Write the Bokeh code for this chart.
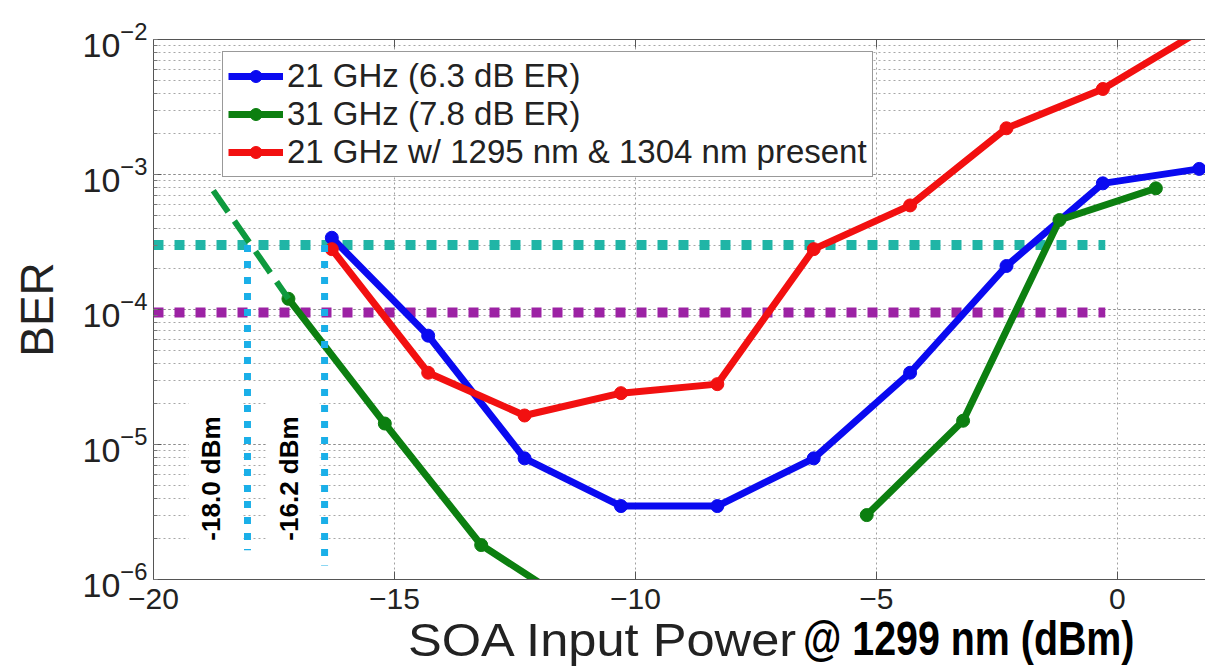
import math
from bokeh.plotting import figure
from bokeh.layouts import column
from bokeh.models import (Legend, LegendItem, Label, FixedTicker, LinearAxis,
                          CustomJSTickFormatter, Range1d, Div)
from bokeh.embed import file_html
from bokeh.resources import INLINE

nan = float("nan")

# ---------------- data ----------------
blue_x = [-16.3, -14.3, -12.3, -10.3, -8.3, -6.3, -4.3, -2.3, -0.3, 1.7]
blue_y = [3.4e-4, 6.4e-5, 7.9e-6, 3.5e-6, 3.5e-6, 7.9e-6, 3.4e-5, 2.1e-4, 8.6e-4, 1.1e-3]

red_x = [-16.3, -14.3, -12.3, -10.3, -8.3, -6.3, -4.3, -2.3, -0.3, 1.7]
red_y = [2.8e-4, 3.4e-5, 1.64e-5, 2.4e-5, 2.8e-5, 2.8e-4, 5.9e-4, 2.2e-3, 4.3e-3, 1.15e-2]

green_x = [-17.2, -15.2, -13.2, -11.2, -9.2, -7.2, -5.2, -3.2, -1.2, 0.8]
green_y = [1.2e-4, 1.43e-5, 1.8e-6, 6.2e-7, nan, nan, 3.0e-6, 1.5e-5, 4.6e-4, 7.9e-4]

series_labels = ["21 GHz (6.3 dB ER)", "31 GHz (7.8 dB ER)",
                 "21 GHz w/ 1295 nm & 1304 nm present"]

# thresholds (horizontal dotted lines)
thr_values = [3.0e-4, 9.5e-5]
thr_x_end = -0.25
thr_colors = ["#20B5A6", "#9C22A4"]

# sensitivity markers (vertical dotted lines)
sens_power = [-18.05, -16.45]
sens_bottom = [1.65e-6, 1.27e-6]
sens_labels = ["-18.0 dBm", "-16.2 dBm"]

# extrapolation guide (green dashed)
guide_x = [-18.76, -17.2]
guide_y = [7.6e-4, 1.2e-4]

x_ticks = [-20, -15, -10, -5, 0]
x_title_regular = "SOA Input Power"
x_title_bold = "@ 1299 nm (dBm)"
y_title = "BER"

FONT = "Liberation Sans"

p = figure(width=1205, height=623, y_axis_type="log",
           x_range=Range1d(-20, 1.83), y_range=Range1d(1e-6, 1e-2),
           output_backend="svg", toolbar_location=None,
           min_border_left=153, min_border_right=0, min_border_top=39,
           min_border_bottom=44, margin=0)
p.outline_line_color = None
p.background_fill_color = "white"
p.border_fill_color = "white"

# axes
p.xaxis.ticker = FixedTicker(ticks=x_ticks)
p.xaxis.major_label_text_font = FONT
p.xaxis.major_label_text_font_size = "30px"
p.xaxis.major_label_text_color = "#222222"
p.xaxis.major_label_standoff = 9
p.xaxis.major_tick_in = 8
p.xaxis.major_tick_out = 0
p.xaxis.minor_tick_line_color = None
p.xaxis.axis_line_color = "#555555"
p.xaxis.major_tick_line_color = "#555555"

p.yaxis.major_label_text_font = FONT
p.yaxis.major_label_text_font_size = "34px"
p.yaxis.major_label_text_color = "#222222"
p.yaxis.major_label_standoff = 6
p.yaxis.major_tick_in = 8
p.yaxis.major_tick_out = 0
p.yaxis.minor_tick_in = 4
p.yaxis.minor_tick_out = 0
p.yaxis.axis_line_color = "#555555"
p.yaxis.major_tick_line_color = "#555555"
p.yaxis.minor_tick_line_color = "#777777"
p.yaxis.axis_label = y_title
p.yaxis.axis_label_text_font = FONT
p.yaxis.axis_label_text_font_style = "normal"
p.yaxis.axis_label_text_font_size = "46px"
p.yaxis.axis_label_text_color = "#222222"
p.yaxis.axis_label_standoff = 17

top_axis = LinearAxis(ticker=FixedTicker(ticks=x_ticks),
                      formatter=CustomJSTickFormatter(code="return ''"),
                      major_tick_in=8, major_tick_out=0,
                      minor_tick_line_color=None,
                      axis_line_color="#555555", major_tick_line_color="#555555")
p.add_layout(top_axis, "above")

# grid
p.xgrid.ticker = FixedTicker(ticks=x_ticks)
p.xgrid.grid_line_color = "#888888"
p.xgrid.grid_line_dash = "2 3"
p.xgrid.grid_line_alpha = 0.8
p.ygrid.grid_line_color = "#8a8a8a"
p.ygrid.grid_line_dash = "2 3"
p.ygrid.grid_line_alpha = 0.75
p.ygrid.minor_grid_line_color = "#8a8a8a"
p.ygrid.minor_grid_line_dash = "2 3"
p.ygrid.minor_grid_line_alpha = 0.75

# white boxes behind the dBm labels
box_left = [s - 1.22 for s in sens_power]
box_right = [s - 0.1 for s in sens_power]
p.quad(left=box_left, right=box_right, bottom=1.38e-6, top=2.39e-5,
       fill_color="white", line_color=None)

# thresholds
for v, c in zip(thr_values, thr_colors):
    p.segment(x0=-20, y0=v, x1=thr_x_end, y1=v, line_color=c, line_width=10,
              line_dash="10 11", line_cap="butt")

# series
lw = 7
ms = 13
bl = p.line(blue_x, blue_y, line_color="#0A0AF0", line_width=lw)
bs = p.scatter(blue_x, blue_y, size=ms, fill_color="#0A0AF0", line_color="#0A0AF0")
gl = p.line(green_x, green_y, line_color="#0C7F10", line_width=lw)
gs = p.scatter(green_x, green_y, size=ms, fill_color="#0C7F10", line_color="#0C7F10")
rl = p.line(red_x, red_y, line_color="#F21010", line_width=lw)
rs = p.scatter(red_x, red_y, size=ms, fill_color="#F21010", line_color="#F21010")

# guide line
p.line(guide_x, guide_y, line_color="#0E9A3E", line_width=6, line_dash="26 11")

# sensitivity verticals
p.segment(x0=sens_power, y0=thr_values[0], x1=sens_power, y1=sens_bottom,
          line_color="#1AAFE8", line_width=7, line_dash="7 9", line_cap="butt")

for s, t in zip(sens_power, sens_labels):
    p.add_layout(Label(x=s, y=5.6e-6, x_offset=-36, text=t, angle=math.pi / 2,
                       text_align="center", text_baseline="middle",
                       text_font=FONT, text_font_style="bold",
                       text_font_size="26px", text_color="black"))

# legend
legend = Legend(items=[
    LegendItem(label=series_labels[0], renderers=[bl, bs]),
    LegendItem(label=series_labels[1], renderers=[gl, gs]),
    LegendItem(label=series_labels[2], renderers=[rl, rs]),
], location=(69, 402))
legend.label_text_font = FONT
legend.label_text_font_size = "33px"
legend.label_text_color = "#222222"
legend.glyph_width = 55
legend.glyph_height = 30
legend.label_height = 30
legend.label_standoff = 4
legend.spacing = -4
legend.padding = 5
legend.margin = 0
legend.border_line_color = "#333333"
legend.border_line_width = 1.5
legend.background_fill_alpha = 1.0
p.add_layout(legend, "center")

# x axis title (mixed regular / bold) below the figure
title_html = (
    '<div style="position:relative;width:1205px;height:48px;">'
    '<span style="position:absolute;left:408px;top:-10px;white-space:nowrap;'
    'font-family:\'Liberation Sans\',Arial,sans-serif;font-size:46px;'
    'line-height:normal;color:#222222;transform:scaleX(1.1);'
    'transform-origin:0 50%;">' + x_title_regular + '</span>'
    '<span style="position:absolute;left:803px;top:-12px;white-space:nowrap;'
    'font-family:\'Liberation Sans\',Arial,sans-serif;font-size:48px;font-weight:bold;'
    'line-height:normal;color:#000000;transform:scaleX(0.82);'
    'transform-origin:0 50%;">' + x_title_bold + '</span>'
    '</div>'
)
div = Div(text=title_html, width=1205, height=48, margin=0,
          styles={"overflow": "visible"})

layout = column(p, div, spacing=0, margin=0)

open("out.html", "w").write(file_html(layout, INLINE))
